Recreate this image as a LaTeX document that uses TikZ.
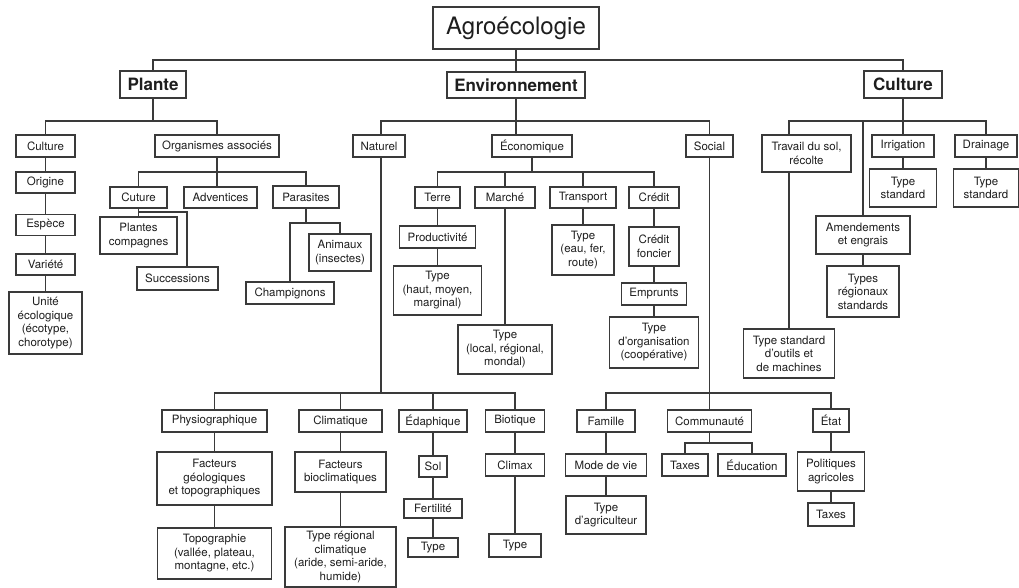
\documentclass[tikz,border=0pt]{standalone}
\usepackage{fontspec}
\setmainfont{TeX Gyre Heros}
\definecolor{linec}{HTML}{3A3A3A}
\definecolor{txtc}{HTML}{1E1E1E}
\newcommand{\smf}{\fontsize{11.5}{13.5}\selectfont}
\newcommand{\mybox}[6]{\node[bx,minimum width=#4,minimum height=#5] (#1) at (#2,#3) {#6};}
\tikzset{
  bx/.style={draw=linec, line width=1.3pt, inner sep=2pt, align=center, font=\smf, text=txtc, fill=white},
  bigbx/.style={bx, font=\fontsize{24}{28}\selectfont},
  midbx/.style={bx, font=\fontsize{17}{20}\selectfont\bfseries},
  ln/.style={draw=linec, line width=1.3pt}
}
\begin{document}
\begin{tikzpicture}[x=1pt,y=-1pt]
\useasboundingbox (0,0) rectangle (1019,588);
% level coordinates
\coordinate (y60) at (0,60);
\coordinate (y121) at (0,121);
\coordinate (y172) at (0,172);
\coordinate (y212) at (0,212);
\coordinate (y223) at (0,223);
\coordinate (y393) at (0,393);
\coordinate (y443) at (0,443);
% top
\node[bigbx,minimum width=166,minimum height=42] (agro) at (516,28) {Agroécologie};
\node[midbx,minimum width=66,minimum height=27] (plante) at (153,84.5) {Plante};
\node[midbx,minimum width=138,minimum height=26] (env) at (516,85) {Environnement};
\node[midbx,minimum width=78,minimum height=27] (cult) at (903,84.5) {Culture};
% Plante
\mybox{pculture}{45.5}{146}{59}{22}{Culture}
\mybox{orig}{45.5}{182.5}{59}{21}{Origine}
\mybox{espece}{45.5}{225}{59}{21}{Espèce}
\mybox{variete}{45.5}{264.5}{59}{21}{Variété}
\mybox{unite}{45.5}{323}{73}{62}{Unité\\écologique\\(écotype,\\chorotype)}
\mybox{org}{217}{146}{124}{22}{Organismes associés}
\mybox{cuture}{138.5}{197.5}{57}{21}{Cuture}
\mybox{advent}{220.5}{197.5}{73}{21}{Adventices}
\mybox{paras}{306}{197}{66}{22}{Parasites}
\mybox{plantes}{138.5}{235.5}{77}{37}{Plantes\\compagnes}
\mybox{succ}{177.5}{278.5}{81}{23}{Successions}
\mybox{animaux}{340}{252.5}{62}{37}{Animaux\\(insectes)}
\mybox{champ}{290}{293}{88}{22}{Champignons}
% Environnement
\mybox{naturel}{379}{146}{52}{22}{Naturel}
\mybox{eco}{532}{146}{80}{22}{Économique}
\mybox{social}{709.5}{146}{47}{22}{Social}
\mybox{terre}{437.5}{197.5}{45}{21}{Terre}
\mybox{marche}{505}{197.5}{60}{21}{Marché}
\mybox{transp}{583}{197.5}{66}{21}{Transport}
\mybox{credit}{654}{197.5}{50}{21}{Crédit}
\mybox{prod}{437.5}{237}{76}{22}{Productivité}
\mybox{typehaut}{437.5}{290.5}{88}{49}{Type\\(haut, moyen,\\marginal)}
\mybox{typelocal}{505}{349.5}{94}{49}{Type\\(local, régional,\\mondal)}
\mybox{typeeau}{583}{250}{62}{50}{Type\\(eau, fer,\\route)}
\mybox{cfonc}{654}{246.5}{50}{39}{Crédit\\foncier}
\mybox{emprunts}{654}{294}{65}{22}{Emprunts}
\mybox{typeorg}{654}{342.5}{89}{51}{Type\\d'organisation\\(coopérative)}
% Culture
\mybox{travail}{806.5}{153.5}{89}{37}{Travail du sol,\\récolte}
\mybox{irrig}{903}{146}{62}{22}{Irrigation}
\mybox{drain}{986}{146}{62}{22}{Drainage}
\mybox{tsirr}{903}{188}{67}{38}{Type\\standard}
\mybox{tsdrain}{986}{188}{65}{38}{Type\\standard}
\mybox{amend}{863}{235}{94}{38}{Amendements\\et engrais}
\mybox{typesreg}{863}{291.5}{72}{51}{Types\\régionaux\\standards}
\mybox{outils}{789}{353.5}{91}{49}{Type standard\\d'outils et\\de machines}
% Naturel
\mybox{physio}{214.5}{421}{105}{22}{Physiographique}
\mybox{clim}{340.5}{421}{83}{22}{Climatique}
\mybox{edaph}{433}{421}{68}{22}{Édaphique}
\mybox{biot}{515}{421}{59}{22}{Biotique}
\mybox{facgeo}{214.5}{478.5}{115}{53}{Facteurs\\géologiques\\et topographiques}
\mybox{topo}{214.5}{553.5}{114}{51}{Topographie\\(vallée, plateau,\\montagne, etc.)}
\mybox{facbio}{340.5}{472}{91}{40}{Facteurs\\bioclimatiques}
\mybox{typereg}{340.5}{557}{111}{60}{Type régional\\climatique\\(aride, semi-aride,\\humide)}
\mybox{sol}{433}{466.5}{28}{21}{Sol}
\mybox{fert}{433}{508.5}{58}{19}{Fertilité}
\mybox{typeed}{433}{547.5}{50}{19}{Type}
\mybox{climax}{515}{465}{59}{22}{Climax}
\mybox{typebio}{515}{545.5}{52}{23}{Type}
% Social
\mybox{famille}{606}{421}{58}{22}{Famille}
\mybox{commun}{709.5}{421}{84}{22}{Communauté}
\mybox{etat}{831}{420.5}{36}{23}{État}
\mybox{modevie}{606}{465}{81}{22}{Mode de vie}
\mybox{typeagri}{606}{515}{80}{38}{Type\\d'agriculteur}
\mybox{taxesa}{685}{465}{46}{22}{Taxes}
\mybox{educ}{752}{465}{68}{22}{Éducation}
\mybox{polit}{831}{471.5}{67}{39}{Politiques\\agricoles}
\mybox{taxesb}{831}{514.5}{46}{23}{Taxes}
% ---------- connectors
\draw[ln] (agro.south) -- (agro.south |- env.north);
\draw[ln] (plante.north) |- (cult.north |- y60) -- (cult.north);
% Plante
\draw[ln] (plante.south) -- (plante.south |- y121);
\draw[ln] (pculture.north) |- (org.north |- y121) -- (org.north);
\draw[ln] (pculture) -- (orig) -- (espece) -- (variete) -- (unite);
\draw[ln] (org.south) -- (org.south |- advent.north);
\draw[ln] (cuture.north) |- (paras.north |- y172) -- (paras.north);
\draw[ln] (cuture.south) -- (cuture.south |- plantes.north);
\draw[ln] (cuture.south |- y212) -| ([xshift=9.5]succ.north);
\draw[ln] (paras.south) -- (paras.south |- y223);
\draw[ln] (champ.north) |- (animaux.north |- y223) -- (animaux.north);
% Environnement
\draw[ln] (env.south) -- (env.south |- eco.north);
\draw[ln] ([xshift=2]naturel.north) |- (social.north |- y121) -- (social.north);
\draw[ln] (eco.south) -- (eco.south |- y172);
\draw[ln] (terre.north) |- (credit.north |- y172) -- (credit.north);
\draw[ln] (marche.north) -- (marche.north |- y172);
\draw[ln] (transp.north) -- (transp.north |- y172);
\draw[ln] (terre) -- (prod) -- (typehaut);
\draw[ln] (marche) -- (typelocal);
\draw[ln] (transp) -- (typeeau);
\draw[ln] (credit) -- (cfonc) -- (emprunts) -- (typeorg);
% Culture
\draw[ln] (cult.south) -- (cult.south |- y121);
\draw[ln] (outils.north |- travail.north) -- (outils.north |- y121) -| (drain.north);
\draw[ln] (outils.north |- travail.south) -- (outils.north);
\draw[ln] (irrig.north) -- (irrig.north |- y121);
\draw[ln] (amend.north) -- (amend.north |- y121);
\draw[ln] (irrig) -- (tsirr);
\draw[ln] (drain) -- (tsdrain);
\draw[ln] (amend) -- (typesreg);
% Naturel
\draw[ln] ([xshift=2]naturel.south) -- ([xshift=2]naturel.south |- y393);
\draw[ln] (physio.north) |- (biot.north |- y393) -- (biot.north);
\draw[ln] (clim.north) -- (clim.north |- y393);
\draw[ln] (edaph.north) -- (edaph.north |- y393);
\draw[ln] (physio) -- (facgeo) -- (topo);
\draw[ln] (clim) -- (facbio) -- (typereg);
\draw[ln] (edaph) -- (sol) -- (fert) -- (typeed);
\draw[ln] (biot) -- (climax) -- (typebio);
% Social
\draw[ln] (social.south) -- (social.south |- y393);
\draw[ln] (famille.north) |- (etat.north |- y393) -- (etat.north);
\draw[ln] (commun.north) -- (commun.north |- y393);
\draw[ln] (famille) -- (modevie) -- (typeagri);
\draw[ln] (commun.south) -- (commun.south |- y443);
\draw[ln] (taxesa.north) |- (educ.north |- y443) -- (educ.north);
\draw[ln] (etat) -- (polit) -- (taxesb);
\end{tikzpicture}
\end{document}
